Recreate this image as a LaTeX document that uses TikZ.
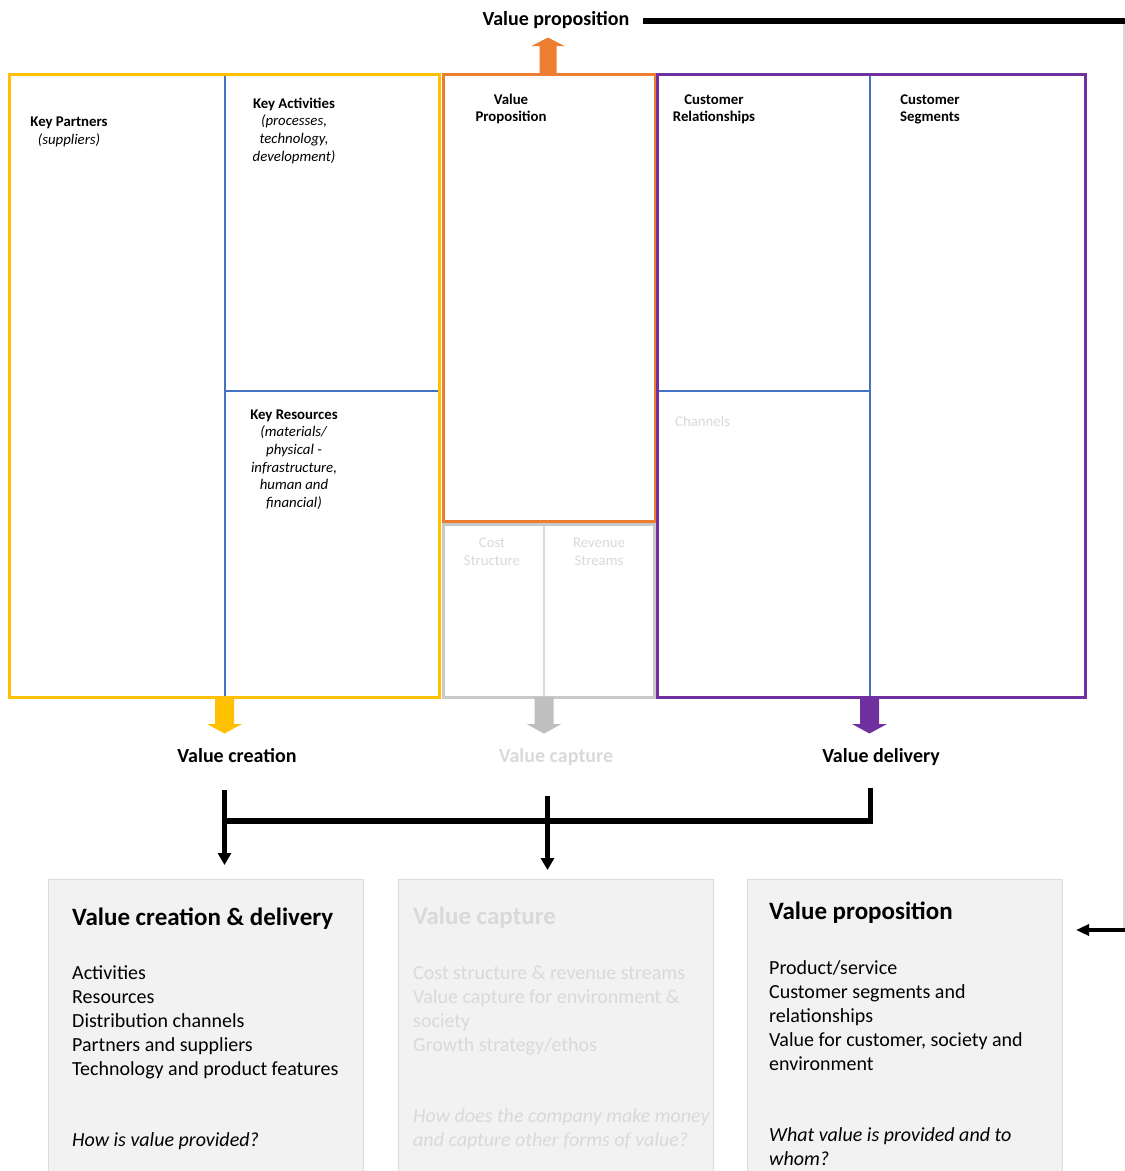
\documentclass[tikz,border=0pt]{standalone}
\usepackage{fontspec}
\setmainfont{Carlito}
\usetikzlibrary{arrows.meta}

\definecolor{cyellow}{HTML}{FFC000}
\definecolor{corange}{HTML}{ED7D31}
\definecolor{cpurple}{HTML}{7030A0}
\definecolor{cblue}{HTML}{4472C4}
\definecolor{cgreyframe}{HTML}{C9C9C9}
\definecolor{cgreyarrow}{HTML}{BFBFBF}
\definecolor{cfaint}{HTML}{D9D9D9}
\definecolor{cpanel}{HTML}{F2F2F2}
\definecolor{cpanelline}{HTML}{DCDCDC}

% multi-line nodes below are placed by the baseline of their last line
\tikzset{
  frame/.style={draw, line width=3pt, inner sep=0pt, outer sep=0pt, anchor=north west},
  divider/.style={cblue, line width=2pt},
  cell/.style={font=\fontsize{14.8}{17.6}\selectfont, inner sep=0pt, align=center, anchor=base},
  flowlabel/.style={font=\fontsize{20}{24}\selectfont\bfseries, inner sep=0pt, anchor=base},
  panel/.style={fill=cpanel, draw=cpanelline, line width=1pt, inner sep=0pt, outer sep=0pt, anchor=north west,
                minimum width=315, minimum height=300},
  paneltitle/.style={font=\fontsize{25}{30}\selectfont\bfseries, inner sep=0pt, anchor=base west},
  panelbody/.style={font=\fontsize{20}{24}\selectfont, inner sep=0pt, anchor=base west, align=left},
  link/.style={line width=5.5pt, -{Triangle[width=13pt,length=12pt]}},
  bar/.style={line width=5.5pt},
  pics/blockdown/.style={code={%
    \fill[#1] (-9.5,0) -- (9.5,0) -- (9.5,27) -- (17.5,27) -- (0,36.5) -- (-17.5,27) -- (-9.5,27) -- cycle;}},
  pics/blockup/.style={code={%
    \fill[#1] (-8.5,0) -- (8.5,0) -- (8.5,-27) -- (16.5,-27) -- (0,-35.5) -- (-16.5,-27) -- (-8.5,-27) -- cycle;}},
}

\begin{document}
\begin{tikzpicture}[x=1pt,y=-1pt]
\useasboundingbox (0,0) rectangle (1125,1171);

% ---- canvas: inner dividers ----
\draw[divider] (224.5,74) -- (224.5,697);
\draw[divider] (224.5,391) -- (439.5,391);
\draw[divider] (870,74) -- (870,697);
\draw[divider] (657,391) -- (870,391);
\draw[cfaint, line width=2pt] (543.5,524) -- (543.5,697);

% ---- canvas: coloured frames ----
\node[frame, draw=cyellow, minimum width=430.5, minimum height=623] (create) at (9,74) {};
\node[frame, draw=cgreyframe, minimum width=211, minimum height=173] (capture) at (443,524) {};
\node[frame, draw=corange, minimum width=212, minimum height=447.5] (propose) at (443,74) {};
\node[frame, draw=cpurple, minimum width=428.5, minimum height=623] (deliver) at (657,74) {};

% ---- canvas: building block titles ----
\node[cell] (kp) at (69,144.1) {\textbf{Key Partners}\\\textit{(suppliers)}};
\node[cell] (ka) at (294,161.1) {\textbf{Key Activities}\\\textit{(processes,}\\\textit{technology,}\\\textit{development)}};
\node[cell] (kr) at (294,507.3) {\textbf{Key Resources}\\\textit{(materials/}\\\textit{physical -}\\\textit{infrastructure,}\\\textit{human and}\\\textit{financial)}};
\node[cell] (vp) at (511,121.6) {\textbf{Value}\\\textbf{Proposition}};
\node[cell] (cr) at (714,121.6) {\textbf{Customer}\\\textbf{Relationships}};
\node[cell] (cs) at (930,121.6) {\textbf{Customer}\\\textbf{Segments}};
\node[cell, anchor=base west, text=cfaint] (ch) at (675,426) {Channels};
\node[cell, text=cfaint] (cost) at (492,565.1) {Cost\\Structure};
\node[cell, text=cfaint] (rev) at (599,565.1) {Revenue\\Streams};

% ---- block arrows leaving the canvas ----
\pic at (548,73) {blockup=corange};
\pic at (224.5,697) {blockdown=cyellow};
\pic at (544,697) {blockdown=cgreyarrow};
\pic at (869.5,697) {blockdown=cpurple};

% ---- flow labels ----
\node[flowlabel] (lprop) at (556,25) {Value proposition};
\node[flowlabel] (lcre) at (237,762) {Value creation};
\node[flowlabel, text=cfaint] (lcap) at (556,762) {Value capture};
\node[flowlabel] (ldel) at (881,762) {Value delivery};

% ---- summary panels ----
\node[panel] (p1) at (48.5,879) {};
\node[panel] (p2) at (398,879) {};
\node[panel] (p3) at (747.5,879) {};

\node[paneltitle] (t1) at (72,925) {Value creation \& delivery};
\node[panelbody] (b1) at (72,1075) {Activities\\Resources\\Distribution channels\\Partners and suppliers\\Technology and product features};
\node[panelbody] (q1) at (72,1146) {\textit{How is value provided?}};

\node[paneltitle, text=cfaint] (t2) at (413,924) {Value capture};
\node[panelbody, text=cfaint] (b2) at (413,1051) {Cost structure \& revenue streams\\Value capture for environment \&\\society\\Growth strategy/ethos};
\node[panelbody, text=cfaint] (q2) at (413,1146) {\textit{How does the company make money}\\\textit{and capture other forms of value?}};

\node[paneltitle] (t3) at (769,919) {Value proposition};
\node[panelbody] (b3) at (769,1070) {Product/service\\Customer segments and\\relationships\\Value for customer, society and\\environment};
\node[panelbody] (q3) at (769,1165) {\textit{What value is provided and to}\\\textit{whom?}};

% ---- connectors ----
\coordinate (crStart) at (224.5,790);
\coordinate (crEnd) at (224.5,865);
\coordinate (cpStart) at (547.5,796);
\coordinate (cpEnd) at (547.5,870);
\coordinate (dlStart) at (870.5,788);
\coordinate (joinL) at (224.5,821);
\coordinate (propStart) at (643,21);
\coordinate (propCorner) at (1125,21);
\coordinate (propDown) at (1124,930);
\coordinate (propEnd) at (1076,930);

\draw[bar] (dlStart) |- (joinL);
\draw[link] (crStart) -- (crEnd);
\draw[link] (cpStart) -- (cpEnd);

\draw[line width=6pt] (propStart) -- (propCorner);
\draw[cfaint, line width=1.2pt] (1124,24) -- (propDown);
\draw[line width=4.5pt, -{Triangle[width=11pt,length=13pt]}] (1125,930) -- (propEnd);
\end{tikzpicture}
\end{document}
